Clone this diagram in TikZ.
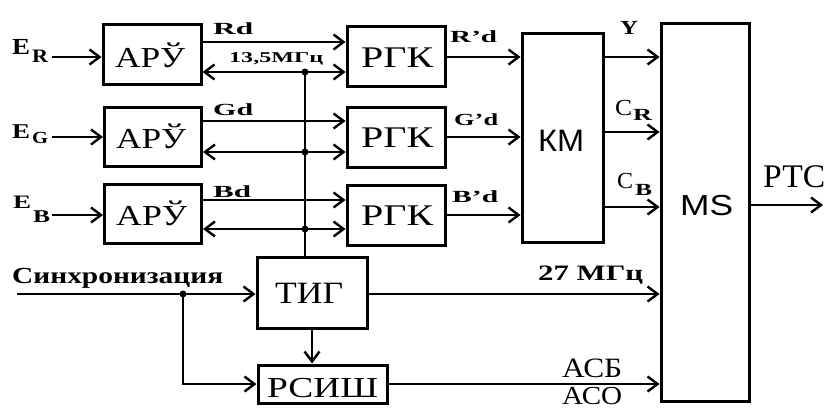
\documentclass[tikz,border=0pt]{standalone}
\usepackage{fontspec}
\usepackage{graphicx}
\setmainfont{Liberation Serif}
\setsansfont{Liberation Sans}
\usetikzlibrary{arrows.meta}
\newcommand\tw[2]{\resizebox{#1}{\height}{#2}}
\begin{document}
\begin{tikzpicture}[x=1pt,y=-1pt,
  box/.style={draw, line width=3pt, inner sep=0pt},
  lbl/.style={anchor=base west, inner sep=0pt},
  bl/.style={lbl, font=\bfseries},
  ln/.style={line width=2.6pt},
  arr/.style={ln, -{Straight Barb[length=10pt,width=15pt,line width=2.4pt]}},
  darr/.style={ln, {Straight Barb[length=10pt,width=15pt,line width=2.4pt]}-{Straight Barb[length=10pt,width=15pt,line width=2.4pt]}},
  jdot/.style={fill, circle, inner sep=0pt, minimum size=7pt}]
\fill[white] (0,0) rectangle (833,412);
\useasboundingbox (0,0) rectangle (833,412);
% boxes
\node[box, minimum width=98pt, minimum height=60pt] (aruR) at (152,55) {};
\node[box, minimum width=97pt, minimum height=59pt] (aruG) at (153,136.5) {};
\node[box, minimum width=97pt, minimum height=59pt] (aruB) at (153,213.5) {};
\node[box, minimum width=98pt, minimum height=60pt] (rgkR) at (396,57) {};
\node[box, minimum width=98pt, minimum height=60pt] (rgkG) at (396,137) {};
\node[box, minimum width=98pt, minimum height=60pt] (rgkB) at (396,215) {};
\node[box, minimum width=81pt, minimum height=208pt] (km) at (562.5,138) {};
\node[box, minimum width=88pt, minimum height=377pt] (ms) at (705,212.5) {};
\node[box, minimum width=110pt, minimum height=71pt] (tig) at (312,292.5) {};
\node[box, minimum width=129pt, minimum height=38pt] (rsish) at (322.5,384) {};
% box texts
\node[lbl, font=\fontsize{29}{29}\selectfont] (tA1) at (115,67.5) {\tw{70pt}{АРЎ}};
\node[lbl, font=\fontsize{29}{29}\selectfont] (tA2) at (116,148.5) {\tw{70pt}{АРЎ}};
\node[lbl, font=\fontsize{29}{29}\selectfont] (tA3) at (116,225.5) {\tw{71pt}{АРЎ}};
\node[lbl, font=\fontsize{30}{30}\selectfont] (tR1) at (361,67) {\tw{72pt}{РГК}};
\node[lbl, font=\fontsize{30}{30}\selectfont] (tR2) at (361,147) {\tw{72pt}{РГК}};
\node[lbl, font=\fontsize{30}{30}\selectfont] (tR3) at (361,225) {\tw{72pt}{РГК}};
\node[lbl, font=\sffamily\fontsize{31}{31}\selectfont] (tKM) at (538,151) {\tw{46pt}{КМ}};
\node[lbl, font=\sffamily\fontsize{29}{29}\selectfont] (tMS) at (680,215) {\tw{53pt}{MS}};
\node[lbl, font=\fontsize{31}{31}\selectfont] (tT) at (275,303) {\tw{68pt}{ТИГ}};
\node[lbl, font=\fontsize{29}{29}\selectfont] (tP) at (267,397) {\tw{111pt}{РСИШ}};
% signal labels
\node[bl, font=\bfseries\fontsize{23}{23}\selectfont] (eR) at (12,55) {\tw{18pt}{E}};
\node[bl, font=\bfseries\fontsize{19}{19}\selectfont] (eRs) at (32,63) {\tw{16pt}{R}};
\node[bl, font=\bfseries\fontsize{21}{21}\selectfont] (eG) at (12,138) {\tw{18pt}{E}};
\node[bl, font=\bfseries\fontsize{17}{17}\selectfont] (eGs) at (32,143) {\tw{16pt}{G}};
\node[bl, font=\bfseries\fontsize{19}{19}\selectfont] (eB) at (13,208) {\tw{18pt}{E}};
\node[bl, font=\bfseries\fontsize{18}{18}\selectfont] (eBs) at (33,222) {\tw{17pt}{B}};
\node[bl, font=\bfseries\fontsize{17}{17}\selectfont] (lRd) at (213,35) {\tw{40pt}{Rd}};
\node[bl, font=\bfseries\fontsize{17}{17}\selectfont] (lGd) at (213,115) {\tw{40pt}{Gd}};
\node[bl, font=\bfseries\fontsize{17}{17}\selectfont] (lBd) at (213,197) {\tw{38pt}{Bd}};
\node[bl, font=\bfseries\fontsize{15}{15}\selectfont] (l135) at (229,63) {\tw{94pt}{13,5МГц}};
\node[bl, font=\bfseries\fontsize{17}{17}\selectfont] (lRpd) at (450,43) {\tw{47pt}{R'd}};
\node[bl, font=\bfseries\fontsize{17}{17}\selectfont] (lGpd) at (454,125) {\tw{44pt}{G'd}};
\node[bl, font=\bfseries\fontsize{17}{17}\selectfont] (lBpd) at (452,202) {\tw{46pt}{B'd}};
\node[bl, font=\bfseries\fontsize{20}{20}\selectfont] (lY) at (620,35) {\tw{18pt}{Y}};
\node[bl, font=\fontsize{23}{23}\selectfont] (lCR) at (615,115) {\tw{17pt}{C}};
\node[bl, font=\bfseries\fontsize{17}{17}\selectfont] (lCRs) at (633,121) {\tw{19pt}{R}};
\node[bl, font=\fontsize{23}{23}\selectfont] (lCB) at (617,188) {\tw{16pt}{C}};
\node[bl, font=\bfseries\fontsize{17}{17}\selectfont] (lCBs) at (635,195) {\tw{17pt}{B}};
\node[lbl, font=\fontsize{33}{33}\selectfont] (lPTC) at (763,187) {\tw{62pt}{РТС}};
\node[bl, font=\bfseries\fontsize{23}{23}\selectfont] (lSync) at (12,283) {\tw{211pt}{Синхронизация}};
\node[bl, font=\bfseries\fontsize{22}{22}\selectfont] (l27) at (538,280) {\tw{105pt}{27 МГц}};
\node[lbl, font=\fontsize{28}{28}\selectfont] (lASB) at (562,377) {\tw{60pt}{АСБ}};
\node[lbl, font=\fontsize{26}{26}\selectfont] (lASO) at (562,404) {\tw{60pt}{АСО}};
% coordinates
\coordinate (inR) at (52,57);
\coordinate (inG) at (52,137);
\coordinate (inB) at (52,215);
\coordinate (dR) at ([yshift=15pt]rgkR.west);
\coordinate (rR) at ([yshift=-15pt]rgkR.west);
\coordinate (dG) at ([yshift=16pt]rgkG.west);
\coordinate (rG) at ([yshift=-15pt]rgkG.west);
\coordinate (dB) at ([yshift=15pt]rgkB.west);
\coordinate (rB) at ([yshift=-14pt]rgkB.west);
\coordinate (jR) at (305,72);
\coordinate (jG) at (305,152);
\coordinate (jB) at (305,229);
\coordinate (sync) at (17,294);
\coordinate (js) at (183,294);
\coordinate (oY) at (603,57);
\coordinate (oCR) at (603,132);
\coordinate (oCB) at (603,207);
\coordinate (out) at (823,205);
% inputs
\draw[arr] (inR) -- (inR -| aruR.west);
\draw[arr] (inG) -- (inG -| aruG.west);
\draw[arr] (inB) -- (inB -| aruB.west);
% ARU -> RGK
\draw[arr] (aruR.east |- dR) -- (dR);
\draw[arr] (aruG.east |- dG) -- (dG);
\draw[arr] (aruB.east |- dB) -- (dB);
\draw[darr] (aruR.east |- rR) -- (rR);
\draw[darr] (aruG.east |- rG) -- (rG);
\draw[darr] (aruB.east |- rB) -- (rB);
% clock distribution
\draw[ln] (jR) -- (jR |- tig.north);
\node[jdot] at (jR) {};
\node[jdot] at (jG) {};
\node[jdot] at (jB) {};
% RGK -> KM
\draw[arr] (rgkR.east) -- (km.west |- rgkR.east);
\draw[arr] (rgkG.east) -- (km.west |- rgkG.east);
\draw[arr] (rgkB.east) -- (km.west |- rgkB.east);
% KM -> MS
\draw[arr] (oY) -- (oY -| ms.west);
\draw[arr] (oCR) -- (oCR -| ms.west);
\draw[arr] (oCB) -- (oCB -| ms.west);
% sync
\draw[arr] (sync) -- (sync -| tig.west);
\node[jdot] at (js) {};
\draw[arr] (js) |- (rsish.west);
\draw[arr] (tig.south) -- (tig.south |- rsish.north);
\draw[arr] (tig.east |- js) -- (ms.west |- js);
\draw[arr] (rsish.east) -- (ms.west |- rsish.east);
\draw[arr] (ms.east |- out) -- (out);
\end{tikzpicture}
\end{document}
